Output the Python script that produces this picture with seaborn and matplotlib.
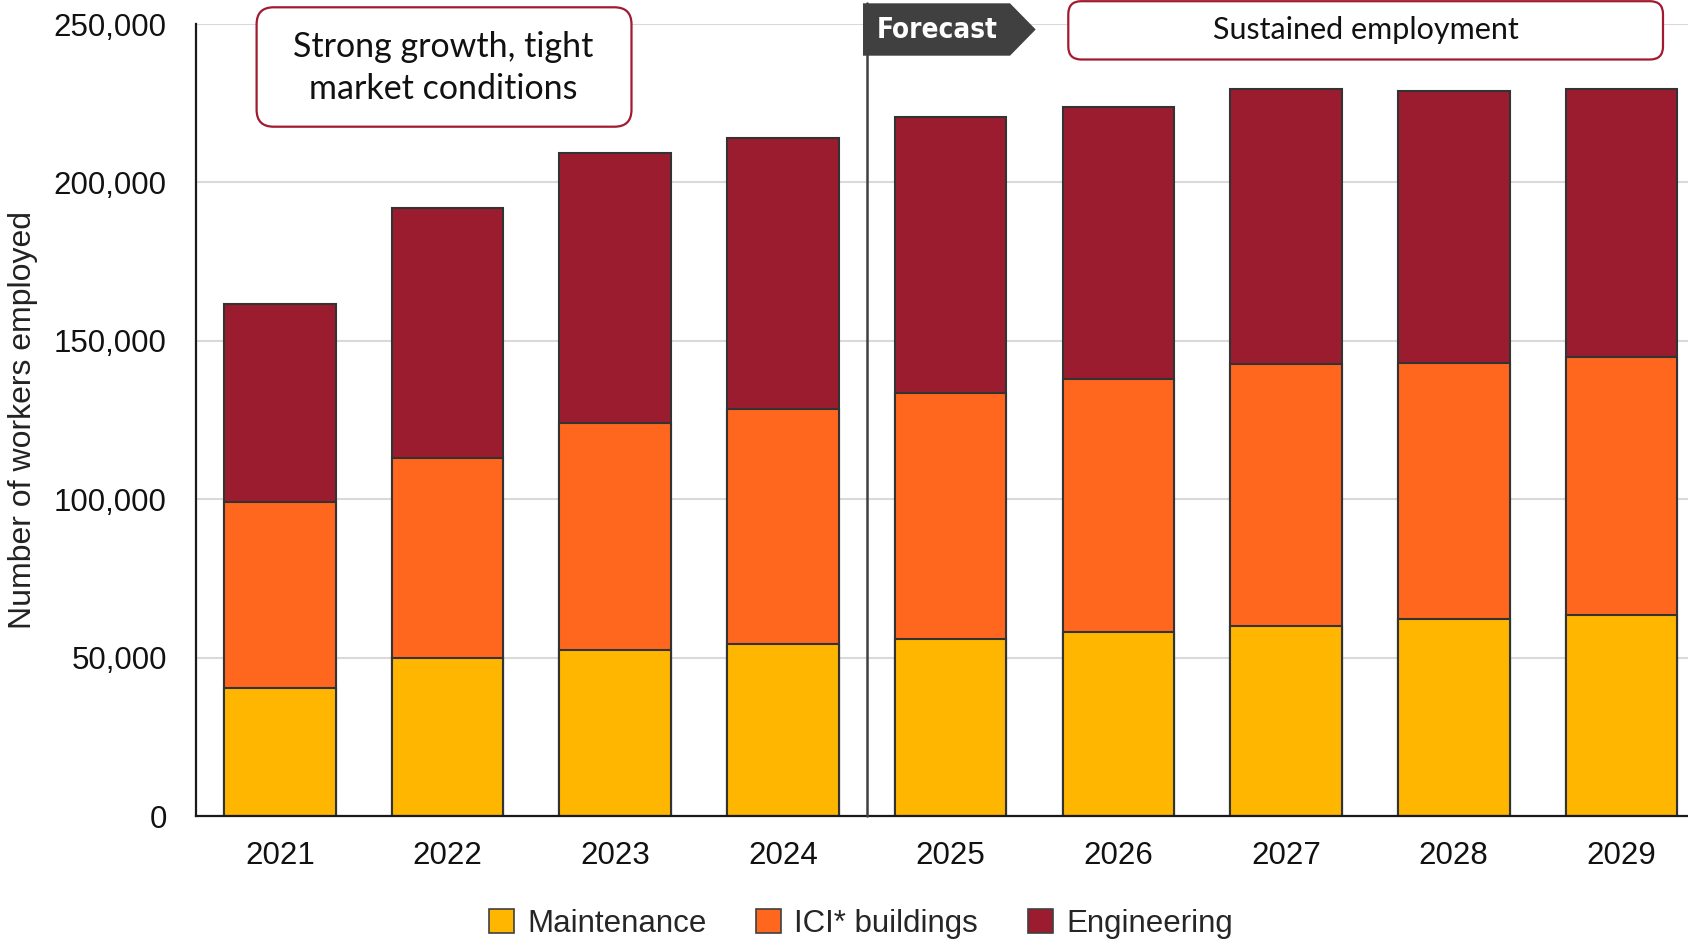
import numpy as np
import pandas as pd
import matplotlib
matplotlib.use("Agg")
import matplotlib.pyplot as plt
import seaborn as sns
from matplotlib.patches import Patch, FancyBboxPatch, Polygon
from matplotlib.ticker import FuncFormatter, FixedLocator
from matplotlib import font_manager

# ---- data ----
years = ["2021", "2022", "2023", "2024", "2025", "2026", "2027", "2028", "2029"]
maintenance = [40300, 49900, 52400, 54200, 56000, 58100, 60100, 62300, 63400]
ici_buildings = [58900, 63200, 71600, 74200, 77500, 79800, 82600, 80700, 81600]
engineering = [62500, 78800, 85200, 85600, 87000, 86000, 86900, 85700, 84600]
series_names = ["Maintenance", "ICI* buildings", "Engineering"]
series_colors = ["#FFB600", "#FF671F", "#9B1C2F"]
y_ticks = [0, 50000, 100000, 150000, 200000, 250000]

sns.set_style("white")
plt.rcParams["font.family"] = ["Liberation Sans", "DejaVu Sans"]

fl = font_manager.fontManager.ttflist
names = {f.name for f in fl}
narrow = "Liberation Sans Narrow" if "Liberation Sans Narrow" in names else None
dv_cond = any(f.name == "DejaVu Sans" and "condensed" in str(f.stretch) and f.weight in ("bold", 700)
              for f in fl)
callout_font = "Lato" if "Lato" in names else "Open Sans"

W, H, DPI = 16.88, 9.44, 100
fig = plt.figure(figsize=(W, H), dpi=DPI)
ax = fig.add_axes([196 / 1688, (944 - 816) / 944, (1688 - 196) / 1688, (816 - 24) / 944])

m = np.array(maintenance)
c1 = m + np.array(ici_buildings)
c2 = c1 + np.array(engineering)
df = pd.DataFrame({"year": years, "maint": m, "ici_cum": c1, "total": c2})

edge = "#333333"
for col, color in zip(["total", "ici_cum", "maint"], series_colors[::-1]):
    sns.barplot(data=df, x="year", y=col, color=color, saturation=1, width=0.666,
                edgecolor=edge, linewidth=1.5, ax=ax, zorder=3)

ax.set_xlim(-0.5, -0.5 + 1492 / 167.7)
ax.set_ylim(0, 250000)
ax.yaxis.set_major_locator(FixedLocator(y_ticks))
ax.yaxis.set_major_formatter(FuncFormatter(lambda v, p: f"{int(v):,}"))
ax.yaxis.grid(True, color="#D9D9D9", linewidth=1.5, zorder=0)
ax.xaxis.grid(False)
ax.set_axisbelow(True)

for s in ["top", "right"]:
    ax.spines[s].set_visible(False)
for s in ["left", "bottom"]:
    ax.spines[s].set_color("#1a1a1a")
    ax.spines[s].set_linewidth(1.6)
    ax.spines[s].set_zorder(5)

ax.set_xlabel("")
ax.set_ylabel("Number of workers employed", fontsize=23, color="#222222")
ax.yaxis.set_label_coords(-0.1059, 0.5)

ax.tick_params(axis="y", direction="in", length=6, width=1.5, color="#1a1a1a",
               labelsize=22.5, pad=21, labelcolor="#111111")
ax.tick_params(axis="x", which="major", length=0, labelsize=22.5, pad=18, labelcolor="#111111")
ax.set_xticks(np.arange(0.5, 8.5, 1.0), minor=True)
ax.tick_params(axis="x", which="minor", direction="in", length=6.5, width=1.5, color="#1a1a1a")

# forecast divider line
ax.axvline(3.5, ymin=0, ymax=(816 - 3) / 792, color="#404040", linewidth=1.8,
           clip_on=False, zorder=6)

def px(x, y):
    return (x / DPI, (944 - y) / DPI)

tr = fig.dpi_scale_trans

# Forecast flag
pent = Polygon([px(863, 3.3), px(1010, 3.3), px(1035.7, 29.5), px(1010, 55.7), px(863, 55.7)],
               closed=True, facecolor="#404040", edgecolor="none", transform=tr, zorder=10)
fig.patches.append(pent)
fx, fy = px(937, 30)
if narrow:
    fig.text(fx / W, fy / H, "Forecast", color="white", fontsize=23, fontweight="bold",
             family=[narrow, "Liberation Sans"], ha="center", va="center", zorder=11)
elif dv_cond:
    fig.text(fx / W, fy / H, "Forecast", color="white", fontsize=20, fontweight="bold",
             family="DejaVu Sans", fontstretch="condensed", ha="center", va="center", zorder=11)
else:
    fig.text(fx / W, fy / H, "Forecast", color="white", fontsize=19.5, fontweight="bold",
             ha="center", va="center", zorder=11)

box_edge = "#A11A30"
# Strong growth box
x0, y1 = px(256.6, 126.7)
x1, y0 = px(631.5, 7.3)
b1 = FancyBboxPatch((x0, y1), x1 - x0, y0 - y1, boxstyle="round,pad=0,rounding_size=0.17",
                    facecolor="white", edgecolor=box_edge, linewidth=1.6, transform=tr, zorder=10)
fig.patches.append(b1)
tx, ty = px(443.5, 68)
fig.text(tx / W, ty / H, "Strong growth, tight\nmarket conditions", family=[callout_font, "DejaVu Sans"],
         fontsize=24.5, ha="center", va="center", linespacing=1.42, color="#111111", zorder=11)

# Sustained employment box
x0, y1 = px(1068.3, 59.5)
x1, y0 = px(1663, 1.2)
b2 = FancyBboxPatch((x0, y1), x1 - x0, y0 - y1, boxstyle="round,pad=0,rounding_size=0.13",
                    facecolor="white", edgecolor=box_edge, linewidth=1.6, transform=tr, zorder=10)
fig.patches.append(b2)
tx, ty = px(1365.5, 30)
fig.text(tx / W, ty / H, "Sustained employment", family=[callout_font, "DejaVu Sans"],
         fontsize=22, ha="center", va="center", color="#111111", zorder=11)

# legend
handles = [Patch(facecolor=c, edgecolor="#404040", linewidth=1.2) for c in series_colors]
fig.legend(handles, series_names, loc="center", bbox_to_anchor=(861 / 1688, (944 - 923.7) / 944),
           ncol=3, frameon=False, fontsize=22.5, handlelength=0.8, handleheight=0.8,
           handletextpad=0.42, columnspacing=1.6, borderaxespad=0, borderpad=0)

fig.savefig("out.png", dpi=DPI)
